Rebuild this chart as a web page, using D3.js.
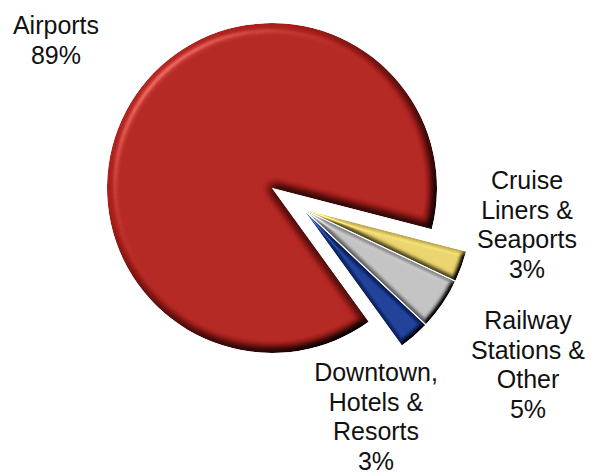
<!DOCTYPE html>
<html>
<head>
<meta charset="utf-8">
<script src="https://cdn.jsdelivr.net/npm/d3@7"></script>
<style>
  html, body { margin: 0; padding: 0; background: #ffffff; }
  svg { display: block; }
  text { font-family: "Liberation Sans", Arial, sans-serif; fill: #111; }
</style>
</head>
<body>
<svg id="chart" width="593" height="474"></svg>
<script>
// Share of sales by location type
const categories = ["Airports", "Cruise Liners & Seaports", "Railway Stations & Other", "Downtown, Hotels & Resorts"];
const shares = [89, 3, 5, 3];
const labelLines = [
  ["Airports"],
  ["Cruise", "Liners &", "Seaports"],
  ["Railway", "Stations &", "Other"],
  ["Downtown,", "Hotels &", "Resorts"]
];
const sliceColors = ["#aa1e1a", "#dcc660", "#b5b5b5", "#14348c"];

const svg = d3.select("#chart");
const cx = 272, cy = 188, R = 165;

// Bevel: diffuse shading darkens edges facing away from the light,
// specular adds a bright rim on edges facing it.
const defs = svg.append("defs");
function bevel(id, blur, scale, spec) {
  const f = defs.append("filter").attr("id", id)
    .attr("x", "-10%").attr("y", "-10%").attr("width", "120%").attr("height", "120%")
    .attr("color-interpolation-filters", "sRGB");
  f.append("feGaussianBlur").attr("in", "SourceAlpha").attr("stdDeviation", blur).attr("result", "blur");
  const diff = f.append("feDiffuseLighting").attr("in", "blur").attr("surfaceScale", scale)
    .attr("diffuseConstant", 1 / Math.sin(55 * Math.PI / 180)).attr("lighting-color", "#ffffff").attr("result", "diff");
  diff.append("feDistantLight").attr("azimuth", 225).attr("elevation", 55);
  f.append("feComposite").attr("in", "SourceGraphic").attr("in2", "diff")
    .attr("operator", "arithmetic").attr("k1", 1).attr("k2", 0).attr("k3", 0).attr("k4", 0).attr("result", "shaded");
  const sp = f.append("feSpecularLighting").attr("in", "blur").attr("surfaceScale", scale)
    .attr("specularConstant", spec).attr("specularExponent", 18).attr("lighting-color", "#ffffff").attr("result", "spec");
  sp.append("feDistantLight").attr("azimuth", 225).attr("elevation", 40);
  f.append("feComposite").attr("in", "spec").attr("in2", "SourceAlpha").attr("operator", "in").attr("result", "specIn");
  f.append("feComposite").attr("in", "shaded").attr("in2", "specIn")
    .attr("operator", "arithmetic").attr("k1", 0).attr("k2", 1).attr("k3", 0.5).attr("k4", 0).attr("result", "lit");
  f.append("feComposite").attr("in", "lit").attr("in2", "SourceAlpha").attr("operator", "in");
}
bevel("bevelBig", 5, 8, 0.55);
bevel("bevelSmall", 2.5, 5, 0.7);

// Pie layout, keeping data order and turning so the small slices open to the lower right
const start = 144.1 * Math.PI / 180;
const pie = d3.pie().sort(null).value(d => d).startAngle(start).endAngle(start + 2 * Math.PI);
const arcs = pie(shares);
const arc = d3.arc().innerRadius(0).outerRadius(R);

// The small slices are pulled out together, plus a little apart from one another
const smallStart = arcs[1].startAngle, smallEnd = arcs[arcs.length - 1].endAngle;
const groupMid = (smallStart + smallEnd) / 2;
const groupPull = 37, ownPull = 4;
function offset(d, i) {
  if (i === 0) return [0, 0];
  const mid = (d.startAngle + d.endAngle) / 2;
  return [
    groupPull * Math.sin(groupMid) + ownPull * Math.sin(mid),
    -groupPull * Math.cos(groupMid) - ownPull * Math.cos(mid)
  ];
}

const g = svg.append("g").attr("transform", `translate(${cx},${cy})`);
g.selectAll("path.slice")
  .data(arcs)
  .join("path")
  .attr("class", "slice")
  .attr("d", arc)
  .attr("fill", (d, i) => sliceColors[i])
  .attr("transform", (d, i) => { const o = offset(d, i); return `translate(${o[0]},${o[1]})`; })
  .attr("filter", (d, i) => i === 0 ? "url(#bevelBig)" : "url(#bevelSmall)");

// Category labels with their shares
const fontSize = 25, lineH = 29.5;
const labelPos = [
  { x: 56, y: 34 },
  { x: 527, y: 189 },
  { x: 528, y: 329 },
  { x: 376, y: 381 }
];
categories.forEach((c, i) => {
  const lines = labelLines[i].concat([`${shares[i]}%`]);
  const t = svg.append("text")
    .attr("text-anchor", "middle")
    .attr("font-size", fontSize)
    .attr("x", labelPos[i].x)
    .attr("y", labelPos[i].y);
  lines.forEach((ln, k) => {
    t.append("tspan").attr("x", labelPos[i].x).attr("dy", k === 0 ? 0 : lineH).text(ln);
  });
});
</script>
</body>
</html>
